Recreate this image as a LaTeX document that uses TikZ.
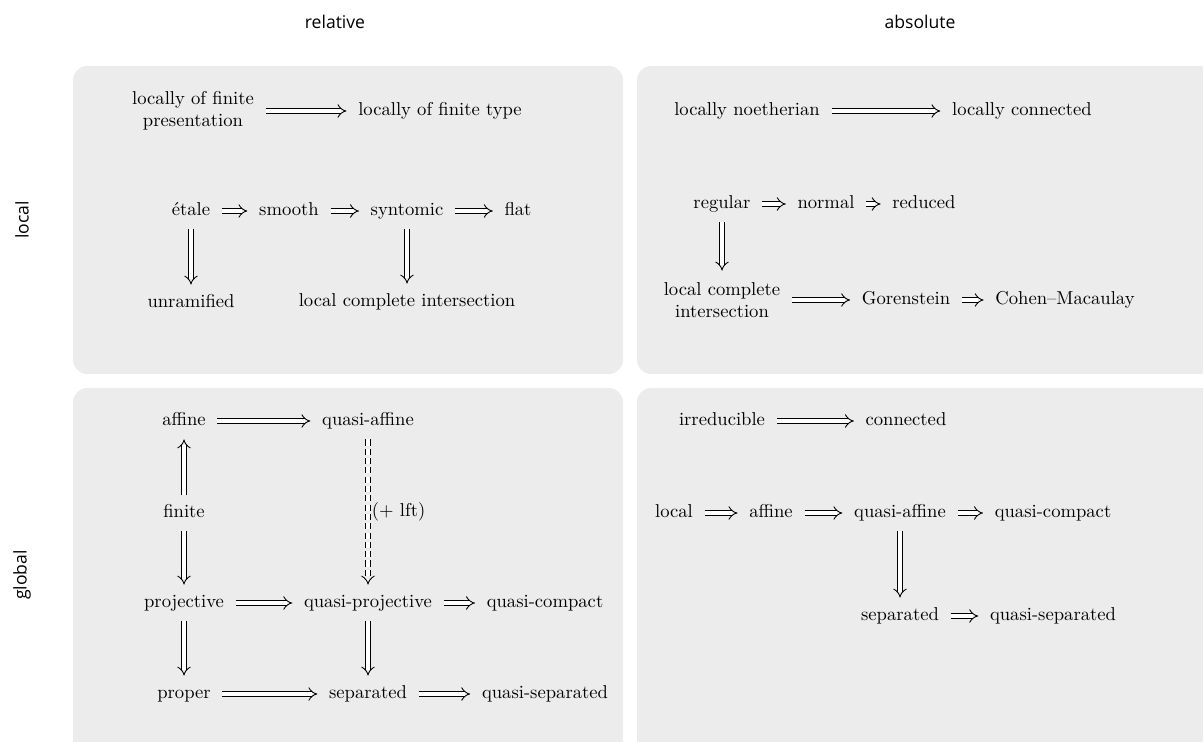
\documentclass[tikz,border=0pt]{standalone}
\usepackage{fontspec}
\newfontfamily\headfont{Open Sans}
\usetikzlibrary{arrows.meta}
\tikzset{
  panel/.style={fill=gray!15, draw=none, rounded corners=8pt},
  head/.style={font=\headfont},
  obj/.style={inner sep=3.5pt, font=\fontsize{10.6}{12.6}\selectfont, text height=1.5ex, text depth=.25ex},
  objtwo/.style={inner sep=3.5pt, font=\fontsize{10.6}{12.6}\selectfont, align=center},
  imp/.style={double, double distance=2.2pt, line width=.5pt, -{Implies}, shorten <=3pt, shorten >=3pt},
  dimp/.style={imp, dash pattern=on 3.5pt off 1.8pt}
}
\begin{document}
\begin{tikzpicture}[x=0.02cm, y=-0.02cm]
        \useasboundingbox (0,0) rectangle (1203,742);
        \clip (0,0) rectangle (1203,742);
        \fill[panel] (73,66) rectangle (623,374);
        \fill[panel] (637,66) rectangle (1215,374);
        \fill[panel] (73,388) rectangle (623,760);
        \fill[panel] (637,388) rectangle (1215,760);
        \node[head] (rel) at (335,22) {relative};
        \node[head] (abs) at (920,22) {absolute};
        \node[head, rotate=90] (loc) at (22,220) {local};
        \node[head, rotate=90] (glo) at (22,575) {global};

        \node[objtwo] (lofp) at (193,111) {locally of finite\\presentation};
        \node[obj] (loft) at (440,111) {locally of finite type};
        \node[obj] (et) at (191,211) {étale};
        \node[obj] (sm) at (289,211) {smooth};
        \node[obj] (syn) at (407,211) {syntomic};
        \node[obj] (flat) at (518,211) {flat};
        \node[obj] (unr) at (191,303) {unramified};
        \node[obj] (lcirel) at (407,302) {local complete intersection};
        \draw[imp] (lofp) -- (loft);
        \draw[imp] (et) -- (sm);
        \draw[imp] (sm) -- (syn);
        \draw[imp] (syn) -- (flat);
        \draw[imp] (et) -- (unr);
        \draw[imp] (syn) -- (lcirel);

        \node[obj] (lnoe) at (747,111) {locally noetherian};
        \node[obj] (lcon) at (1022,111) {locally connected};
        \node[obj] (reg) at (722,204) {regular};
        \node[obj] (nor) at (826,204) {normal};
        \node[obj] (red) at (924,204) {reduced};
        \node[objtwo] (lciabs) at (722,300) {local complete\\intersection};
        \node[obj] (gor) at (906,300) {Gorenstein};
        \node[obj] (cm) at (1065,300) {Cohen--Macaulay};
        \draw[imp] (lnoe) -- (lcon);
        \draw[imp] (reg) -- (nor);
        \draw[imp] (nor) -- (red);
        \draw[imp] (reg) -- (lciabs);
        \draw[imp] (lciabs) -- (gor);
        \draw[imp] (gor) -- (cm);

        \node[obj] (aff) at (184,421) {affine};
        \node[obj] (qaff) at (368,421) {quasi-affine};
        \node[obj] (fin) at (184,513) {finite};
        \node[obj] (proj) at (184,603) {projective};
        \node[obj] (qproj) at (368,603) {quasi-projective};
        \node[obj] (qcomp) at (545,603) {quasi-compact};
        \node[obj] (prop) at (184,694) {proper};
        \node[obj] (sep) at (368,694) {separated};
        \node[obj] (qsep) at (545,694) {quasi-separated};
        \draw[imp] (aff) -- (qaff);
        \draw[imp] (fin) -- (aff);
        \draw[imp] (fin) -- (proj);
        \draw[dimp] (qaff) -- node[right, inner sep=2pt, font=\fontsize{10.6}{12.6}\selectfont] {(+ lft)} (qproj);
        \draw[imp] (proj) -- (qproj);
        \draw[imp] (qproj) -- (qcomp);
        \draw[imp] (proj) -- (prop);
        \draw[imp] (qproj) -- (sep);
        \draw[imp] (prop) -- (sep);
        \draw[imp] (sep) -- (qsep);

        \node[obj] (irr) at (722,421) {irreducible};
        \node[obj] (conn) at (906,421) {connected};
        \node[obj] (lcl) at (674,513) {local};
        \node[obj] (affb) at (771,513) {affine};
        \node[obj] (qaffb) at (900,513) {quasi-affine};
        \node[obj] (qcompb) at (1053,513) {quasi-compact};
        \node[obj] (sepb) at (900,616) {separated};
        \node[obj] (qsepb) at (1053,616) {quasi-separated};
        \draw[imp] (irr) -- (conn);
        \draw[imp] (lcl) -- (affb);
        \draw[imp] (affb) -- (qaffb);
        \draw[imp] (qaffb) -- (qcompb);
        \draw[imp] (qaffb) -- (sepb);
        \draw[imp] (sepb) -- (qsepb);
\end{tikzpicture}
\end{document}
